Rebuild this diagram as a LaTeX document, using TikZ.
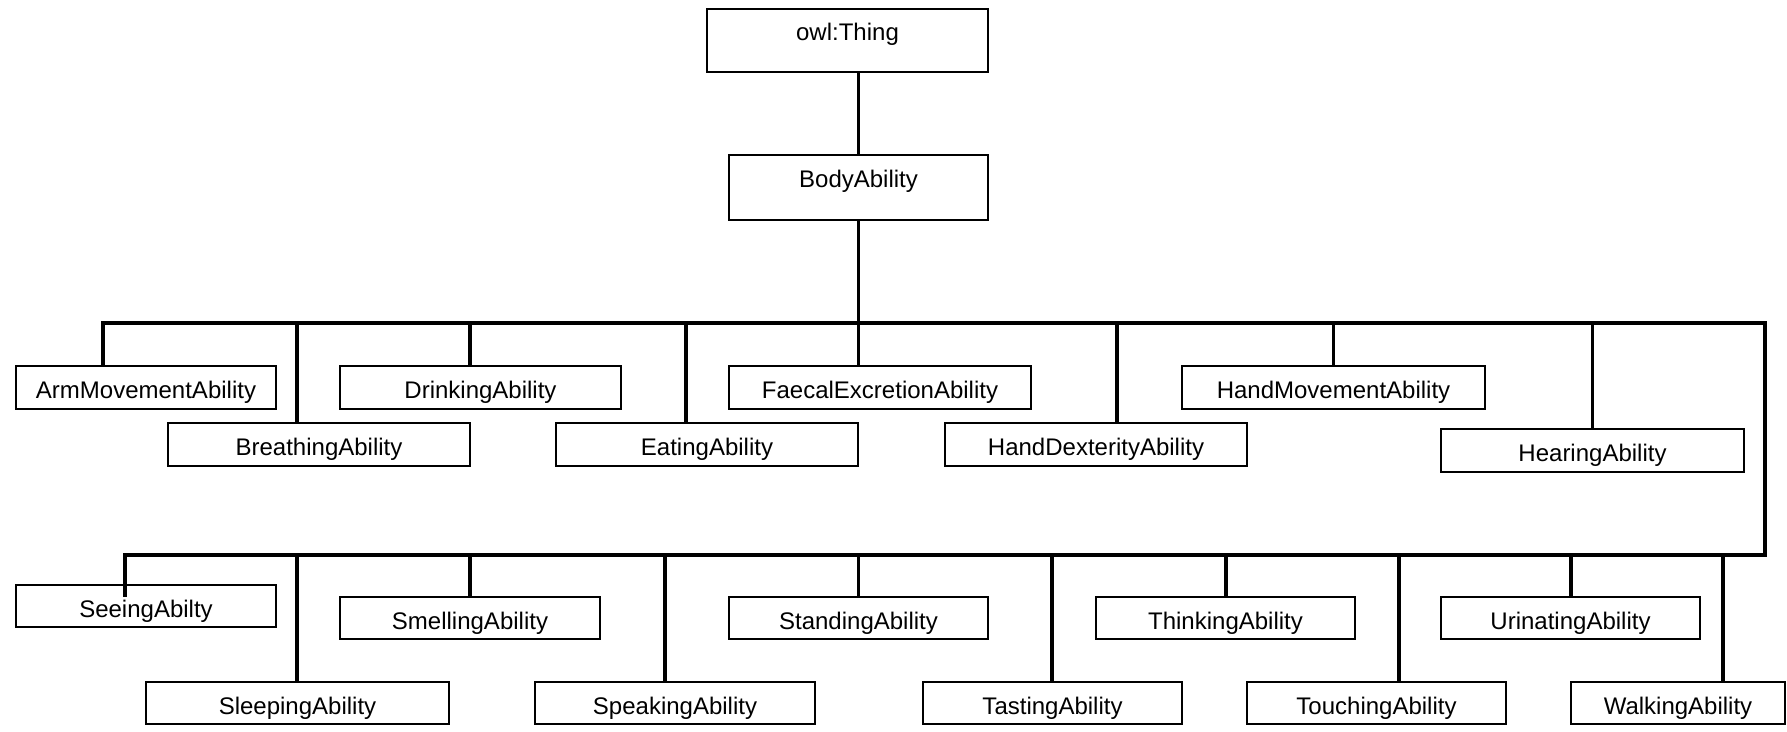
\documentclass[tikz,border=0pt]{standalone}
\usepackage{fontspec}
\setmainfont{Liberation Sans}
\begin{document}
\begin{tikzpicture}[x=1pt,y=-1pt,
  box/.style={draw=black, line width=1.8pt, fill=white, inner sep=0pt,
    font=\fontsize{24}{28}\selectfont, text height=22pt, text depth=0pt},
  topbox/.style={box, text height=10pt, text depth=10pt},
  conn/.style={line width=3.2pt, line join=miter}]
\useasboundingbox (0,0) rectangle (1787,731);
% boxes: at centre, width, height
\newcommand{\bx}[7][box]{\node[#1, minimum width=#5pt, minimum height=#6pt] (#2) at (#3,#4) {#7};}
\bx[topbox]{thing}{847.5}{40.5}{281}{63}{owl:Thing}
\bx[topbox]{body}{858.5}{187.5}{259}{65}{BodyAbility}
% row 1
\bx{arm}{146}{387.5}{260}{43}{ArmMovementAbility}
\bx{drink}{480.5}{387.5}{281}{43}{DrinkingAbility}
\bx{faecal}{880}{387.5}{302}{43}{FaecalExcretionAbility}
\bx{handmov}{1333.5}{387.5}{303}{43}{HandMovementAbility}
\bx{breath}{319}{444.5}{302}{43}{BreathingAbility}
\bx{eat}{707}{444.5}{302}{43}{EatingAbility}
\bx{handdex}{1096}{444.5}{302}{43}{HandDexterityAbility}
\bx{hear}{1592.5}{450.5}{303}{43}{HearingAbility}
% row 2
\bx{see}{146}{606}{260}{42}{SeeingAbilty}
\bx{smell}{470}{618}{260}{42}{SmellingAbility}
\bx{stand}{858.5}{618}{259}{42}{StandingAbility}
\bx{think}{1225.5}{618}{259}{42}{ThinkingAbility}
\bx{urin}{1570.5}{618}{259}{42}{UrinatingAbility}
\bx{sleep}{297.5}{703}{303}{42}{SleepingAbility}
\bx{speak}{675}{703}{280}{42}{SpeakingAbility}
\bx{taste}{1052.5}{703}{259}{42}{TastingAbility}
\bx{touch}{1376.5}{703}{259}{42}{TouchingAbility}
\bx{walk}{1678}{703}{214}{42}{WalkingAbility}
% bus coordinates
\coordinate (jA) at (858.5,323);
\coordinate (tArm) at (103,323);
\coordinate (tBreath) at (297,323);
\coordinate (tDrink) at (470,323);
\coordinate (tEat) at (686,323);
\coordinate (tFaecal) at (858.5,323);
\coordinate (tHandDex) at (1117,323);
\coordinate (tHandMov) at (1333.5,323);
\coordinate (tHear) at (1592.5,323);
\coordinate (cR1) at (1765,323);
\coordinate (cR2) at (1765,555);
\coordinate (sSee) at (125,555);
\coordinate (seeEnd) at (125,597);
\coordinate (sSleep) at (297,555);
\coordinate (sSmell) at (470,555);
\coordinate (sSpeak) at (665,555);
\coordinate (sStand) at (858.5,555);
\coordinate (sTaste) at (1052,555);
\coordinate (sThink) at (1226,555);
\coordinate (sTouch) at (1399,555);
\coordinate (sUrin) at (1571,555);
\coordinate (sWalk) at (1723,555);
% connectors
\draw[conn] (thing.south -| body.north) -- (body.north);
\draw[conn] (body.south) -- (jA);
\draw[conn] (tArm |- arm.north) -- (tArm) -- (cR1) -- (cR2) -- (sSee) -- (seeEnd);
\draw[conn] (tBreath) -- (tBreath |- breath.north);
\draw[conn] (tDrink) -- (tDrink |- drink.north);
\draw[conn] (tEat) -- (tEat |- eat.north);
\draw[conn] (tFaecal) -- (tFaecal |- faecal.north);
\draw[conn] (tHandDex) -- (tHandDex |- handdex.north);
\draw[conn] (tHandMov) -- (tHandMov |- handmov.north);
\draw[conn] (tHear) -- (tHear |- hear.north);
\draw[conn] (sSleep) -- (sSleep |- sleep.north);
\draw[conn] (sSmell) -- (sSmell |- smell.north);
\draw[conn] (sSpeak) -- (sSpeak |- speak.north);
\draw[conn] (sStand) -- (sStand |- stand.north);
\draw[conn] (sTaste) -- (sTaste |- taste.north);
\draw[conn] (sThink) -- (sThink |- think.north);
\draw[conn] (sTouch) -- (sTouch |- touch.north);
\draw[conn] (sUrin) -- (sUrin |- urin.north);
\draw[conn] (sWalk) -- (sWalk |- walk.north);
\end{tikzpicture}
\end{document}
